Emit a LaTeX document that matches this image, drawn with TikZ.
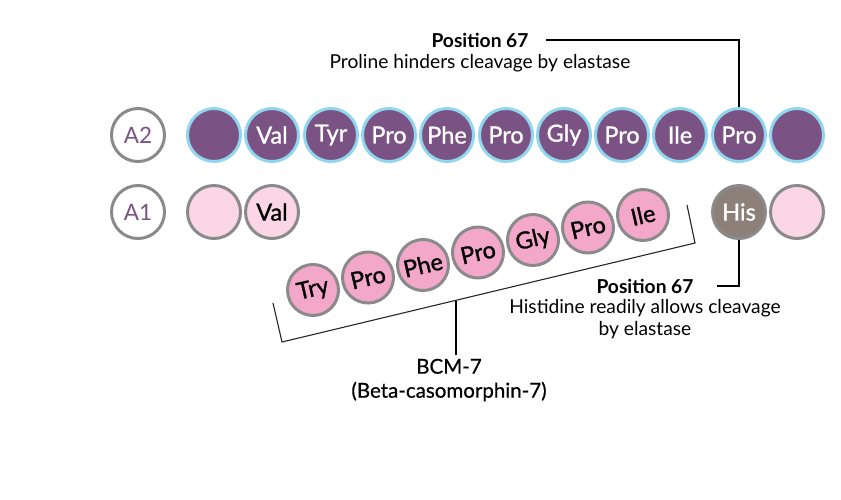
\documentclass[tikz,border=0pt]{standalone}
\usepackage{fontspec}
\setmainfont{Lato}
\newfontfamily\lblfont[FakeBold=1.1]{Lato}
\newfontfamily\bcmfont[FakeBold=0.6]{Lato}
\definecolor{plum}{HTML}{7A5283}
\definecolor{skyring}{HTML}{8FD6EE}
\definecolor{ringgray}{HTML}{8A8A8A}
\definecolor{blush}{HTML}{FAD6E6}
\definecolor{rosepink}{HTML}{F3A8CA}
\definecolor{hisgray}{HTML}{8C8079}

\begin{document}
\begin{tikzpicture}[x=1pt,y=-1pt,
        res/.style={circle,minimum size=53pt,inner sep=0pt,line width=3pt,font=\lblfont\fontsize{23.5}{26}\selectfont},
        atwo/.style={res,fill=plum,draw=skyring,text=white},
        aone/.style={res,fill=blush,draw=ringgray},
        bcm/.style={res,minimum size=51pt,fill=rosepink,draw=ringgray,rotate=13},
        tag/.style={res,fill=white,draw=ringgray,text=plum,font=\fontsize{22.5}{24}\selectfont},
        head/.style={font=\bfseries\fontsize{19.2}{22}\selectfont},
        note/.style={align=center,font=\fontsize{19.2}{22.5}\selectfont},
        callout/.style={line width=1.6pt}]
            \useasboundingbox (0,0) rectangle (841,499);

            % A2 chain
            \node[tag] (tag2) at (138,135) {A2};
            \node[atwo] (p1) at (214,135) {};
            \node[atwo] (p2) at (272,135) {Val};
            \node[atwo] (p3) at (331,135) {Tyr};
            \node[atwo] (p4) at (389,135) {Pro};
            \node[atwo] (p5) at (447,135) {Phe};
            \node[atwo] (p6) at (506,135) {Pro};
            \node[atwo] (p7) at (564,135) {Gly};
            \node[atwo] (p8) at (622,135) {Pro};
            \node[atwo] (p9) at (680,135) {Ile};
            \node[atwo] (p10) at (739,135) {Pro};
            \node[atwo] (p11) at (797,135) {};

            % A1 chain
            \node[tag] (tag1) at (138,212) {A1};
            \node[aone] (q1) at (214,212) {};
            \node[aone] (q2) at (272,212) {Val};
            \node[res,fill=hisgray,draw=ringgray,text=white] (his) at (739,212) {His};
            \node[aone] (q11) at (797,212) {};

            % BCM-7 piece
            \node[bcm] (b1) at (313,290) {Try};
            \node[bcm] (b2) at (368,277.5) {Pro};
            \node[bcm] (b3) at (423,265) {Phe};
            \node[bcm] (b4) at (478,252.5) {Pro};
            \node[bcm] (b5) at (533,240) {Gly};
            \node[bcm] (b6) at (588,227.5) {Pro};
            \node[bcm] (b7) at (643,215) {Ile};

            \draw[line width=1.1pt,black!85] (273,303) -- (282,342) -- (695,243) -- (687,205);
            \coordinate (tick) at (456,300.5);
            \node[note,font=\bcmfont\fontsize{20.5}{24}\selectfont] (bcmlab) at (449,380) {BCM-7\\(Beta-casomorphin-7)};
            \draw[callout] (tick) -- (tick |- bcmlab.north);

            % position 67 labels
            \node[head] (top67) at (480,40) {Position 67};
            \node[note] (topnote) at (480,63) {Proline hinders cleavage by elastase};
            \draw[callout] ([xshift=14pt]top67.east) -| (p10.north);

            \node[head] (bot67) at (645,286) {Position 67};
            \node[note] (botnote) at (645,319) {Histidine readily allows cleavage\\by elastase};
            \draw[callout] (his.south) |- ([xshift=20pt]bot67.east);
        \end{tikzpicture}
\end{document}
